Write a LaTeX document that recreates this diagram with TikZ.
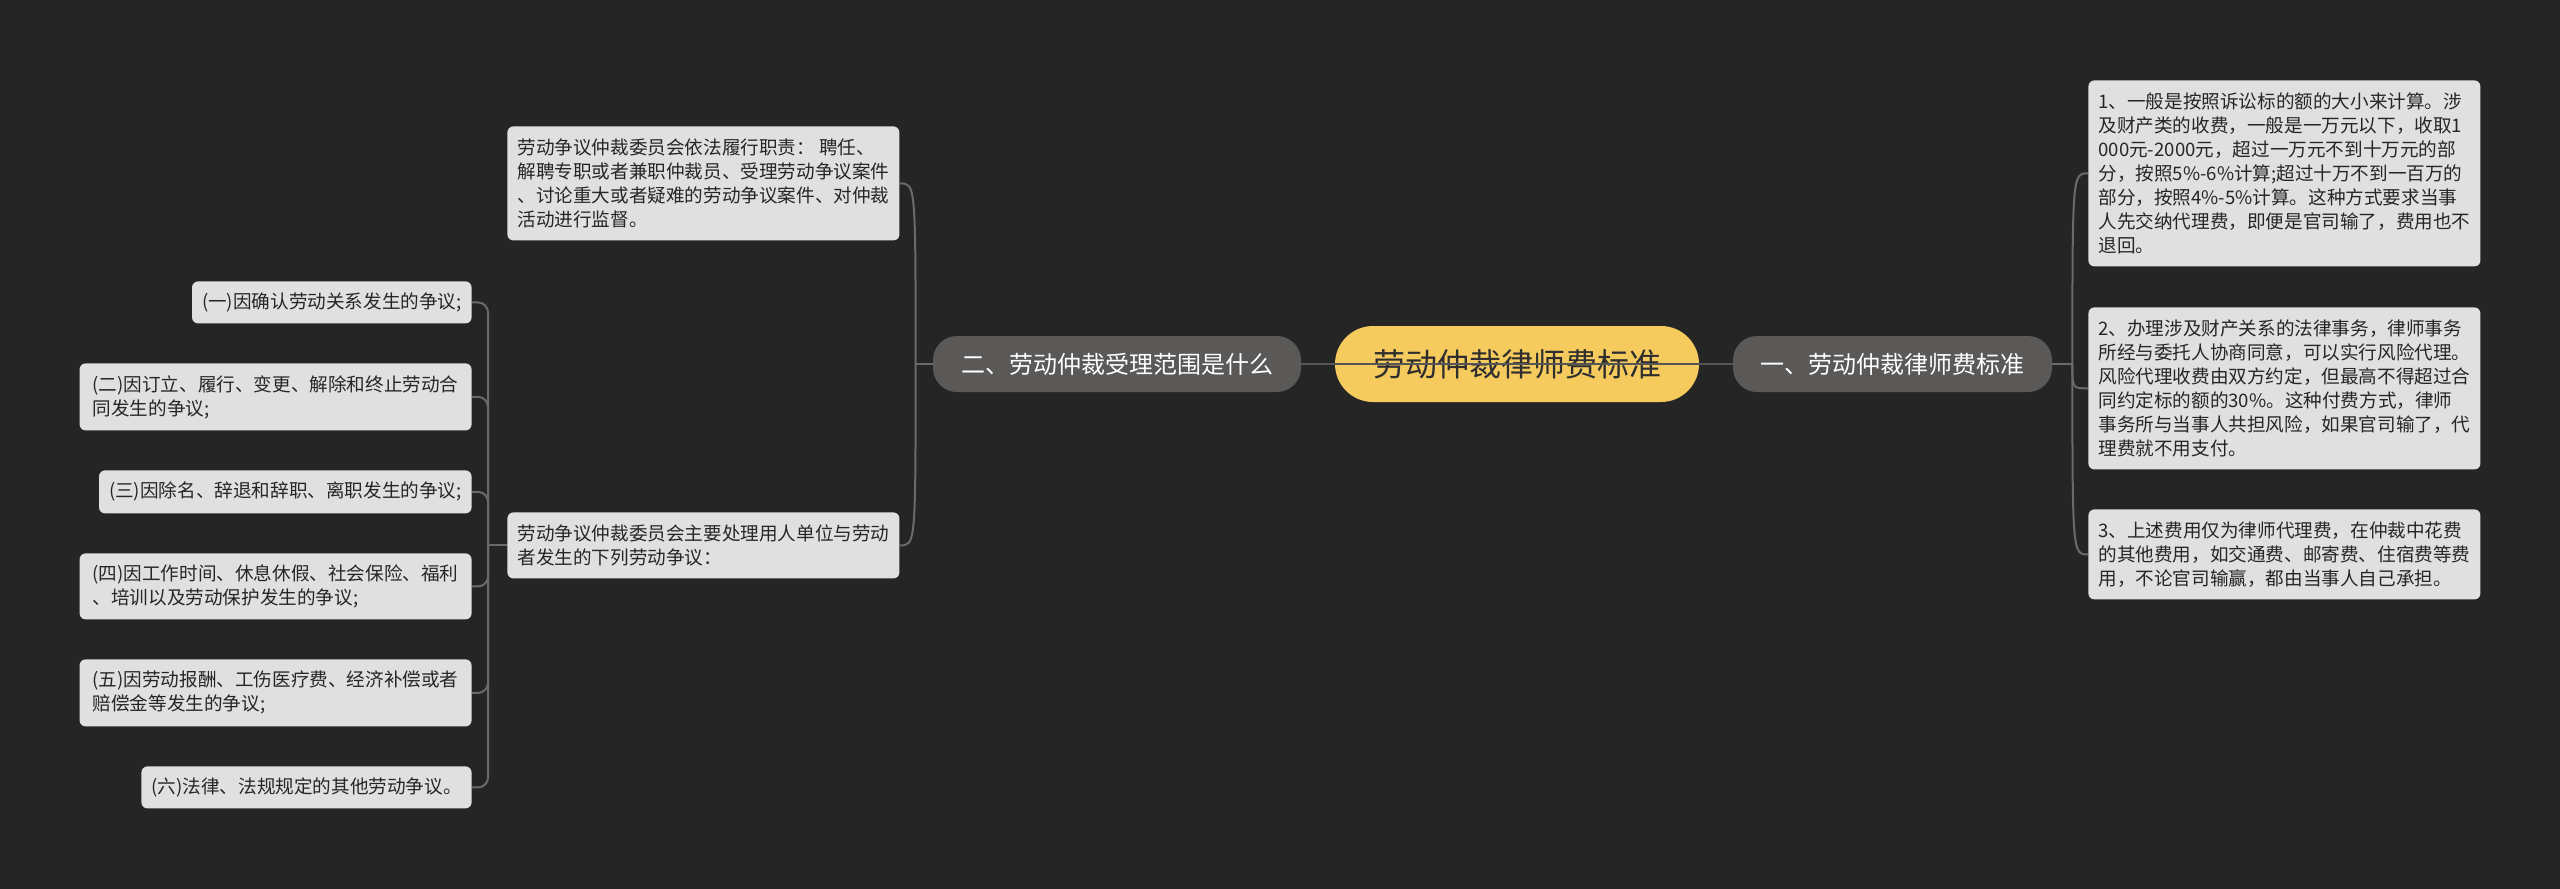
\documentclass[tikz,border=0pt]{standalone}
\usepackage{fontspec}
\usepackage{xcolor}
\usepackage{tikz}
\usetikzlibrary{calc}
\newfontfamily\cjk{Noto Sans CJK SC}
\definecolor{bgcol}{HTML}{252525}
\definecolor{leafcol}{HTML}{E0E0E0}
\definecolor{leaftext}{HTML}{262626}
\definecolor{branchcol}{HTML}{5B5957}
\definecolor{rootcol}{HTML}{F6CB5E}
\definecolor{roottext}{HTML}{2E2E2E}
\definecolor{linkcol}{HTML}{6A6A6A}
\definecolor{rootlinkcol}{HTML}{565656}

\begin{document}
\begin{tikzpicture}[x=0.5pt,y=-0.5pt,
	leaf/.style={fill=leafcol,text=leaftext,rounded corners=3pt,align=left,
		inner xsep=5pt,inner ysep=1pt,font=\cjk\fontsize{9.3pt}{12pt}\selectfont},
	branch/.style={fill=branchcol,text=white,rounded corners=12pt,inner sep=0pt,
		minimum height=28pt,font=\cjk\fontsize{12pt}{14pt}\selectfont},
	rootbox/.style={fill=rootcol,text=roottext,rounded corners=19pt,inner sep=0pt,
		minimum width=182pt,minimum height=38pt,font=\cjk\fontsize{16pt}{18pt}\selectfont},
	link/.style={draw=linkcol,line width=1pt},
	rootlink/.style={draw=rootlinkcol,line width=1.2pt}]
		\useasboundingbox (0,0) rectangle (2560,889);
		\fill[bgcol] (0,0) rectangle (2560,889);
		% centre and main branches
		\node[rootbox] (root) at (1517,364) {劳动仲裁律师费标准};
		\node[branch,minimum width=159.5pt] (br) at (1892.5,364) {一、劳动仲裁律师费标准};
		\node[branch,minimum width=184pt] (bl) at (1117,364) {二、劳动仲裁受理范围是什么};
		% right side
		\node[leaf,anchor=north west,minimum width=195.5pt,minimum height=93pt] (br1) at (2088,80) {1、一般是按照诉讼标的额的大小来计算。涉\\
			及财产类的收费，一般是一万元以下，收取1\\
			000元-2000元，超过一万元不到十万元的部\\
			分，按照5\%-6\%计算;超过十万不到一百万的\\
			部分，按照4\%-5\%计算。这种方式要求当事\\
			人先交纳代理费，即便是官司输了，费用也不\\
			退回。};
		\node[leaf,anchor=north west,minimum width=195.5pt,minimum height=81pt] (br2) at (2088,307) {2、办理涉及财产关系的法律事务，律师事务\\
			所经与委托人协商同意，可以实行风险代理。\\
			风险代理收费由双方约定，但最高不得超过合\\
			同约定标的额的30\%。这种付费方式，律师\\
			事务所与当事人共担风险，如果官司输了，代\\
			理费就不用支付。};
		\node[leaf,anchor=north west,minimum width=195.5pt,minimum height=45pt] (br3) at (2088,509) {3、上述费用仅为律师代理费，在仲裁中花费\\
			的其他费用，如交通费、邮寄费、住宿费等费\\
			用，不论官司输赢，都由当事人自己承担。};
		% left side
		\node[leaf,anchor=north west,minimum width=195.5pt,minimum height=57pt] (bl1) at (507,126) {劳动争议仲裁委员会依法履行职责： 聘任、\\
			解聘专职或者兼职仲裁员、受理劳动争议案件\\
			、讨论重大或者疑难的劳动争议案件、对仲裁\\
			活动进行监督。};
		\node[leaf,anchor=north west,minimum width=195.5pt,minimum height=33pt] (bl2) at (507,512) {劳动争议仲裁委员会主要处理用人单位与劳动\\
			者发生的下列劳动争议：};
		\node[leaf,anchor=north east,minimum width=139pt,minimum height=21pt] (g1) at (472,281) {(一)因确认劳动关系发生的争议;};
		\node[leaf,anchor=north east,minimum width=196pt,minimum height=33.5pt] (g2) at (472,363) {(二)因订立、履行、变更、解除和终止劳动合\\
			同发生的争议;};
		\node[leaf,anchor=north east,minimum width=185.5pt,minimum height=21.5pt] (g3) at (472,470) {(三)因除名、辞退和辞职、离职发生的争议;};
		\node[leaf,anchor=north east,minimum width=196pt,minimum height=33pt] (g4) at (472,553) {(四)因工作时间、休息休假、社会保险、福利\\
			、培训以及劳动保护发生的争议;};
		\node[leaf,anchor=north east,minimum width=196pt,minimum height=33.5pt] (g5) at (472,659) {(五)因劳动报酬、工伤医疗费、经济补偿或者\\
			赔偿金等发生的争议;};
		\node[leaf,anchor=north east,minimum width=164.5pt,minimum height=21pt] (g6) at (472,766) {(六)法律、法规规定的其他劳动争议。};
		% connectors
		\coordinate (jr) at ($(br.east)+(20,0)$);
		\coordinate (jl) at ($(bl.west)+(-17,0)$);
		\coordinate (jg) at ($(bl2.west)+(-19,0)$);
		\draw[link] (br.east) -- (jr);
		\foreach \c in {br1,br2,br3}
			\draw[link] (jr) .. controls (jr |- \c.west) .. (\c.west);
		\draw[link] (bl.west) -- (jl);
		\foreach \c in {bl1,bl2}
			\draw[link] (jl) .. controls (jl |- \c.east) .. (\c.east);
		\draw[link] (bl2.west) -- (jg);
		\foreach \c in {g1,g2,g3,g4,g5,g6}
			\draw[link,rounded corners=5pt] (jg) |- (\c.east);
		\draw[rootlink] (bl.east) -- (br.west);
	\end{tikzpicture}
\end{document}
